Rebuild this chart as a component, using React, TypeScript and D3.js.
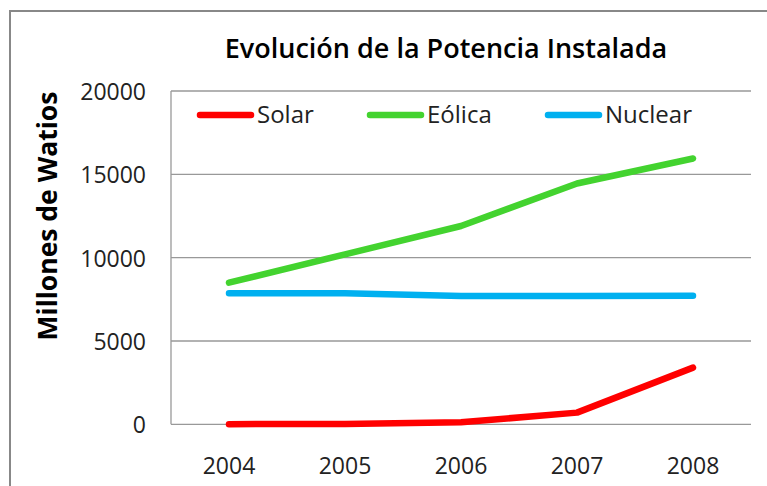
import React from "react";
import * as d3 from "d3";

const years = ["2004", "2005", "2006", "2007", "2008"];
const solar = [10, 20, 120, 700, 3400];
const eolica = [8500, 10200, 11900, 14450, 15950];
const nuclear = [7860, 7860, 7700, 7700, 7720];
const yTicks = [0, 5000, 10000, 15000, 20000];
const seriesNames = ["Solar", "Eólica", "Nuclear"];
const seriesColors = ["#ff0000", "#43d32f", "#00b0f0"];
const title = "Evolución de la Potencia Instalada";
const yTitle = "Millones de Watios";

export default function App() {
  const W = 767, H = 486;
  const left = 171, right = 751, top = 91, bottom = 424.3;
  const x = d3.scaleBand<string>().domain(years).range([left, right]);
  const y = d3.scaleLinear().domain([0, 20000]).range([bottom, top]);
  const cx = (d: string) => (x(d) as number) + x.bandwidth() / 2;
  const line = d3
    .line<number>()
    .x((_, i) => cx(years[i]))
    .y((v) => y(v));
  const series = [solar, eolica, nuclear];
  const legendX = [197, 367, 545];
  const font = "'Open Sans', sans-serif";
  return (
    <svg
      width={W}
      height={H}
      style={{ position: "absolute", left: 0, top: 0, background: "#fff" }}
    >
      <rect x={0} y={0} width={W} height={H} fill="#fff" />
      <rect x={10} y={11} width={W + 20} height={H + 20} fill="#fff" stroke="#888" strokeWidth={2} />
      <text x={446} y={58} textAnchor="middle" fontFamily={font} fontWeight={600} fontSize={27} fill="#000">
        {title}
      </text>
      <text
        transform={`translate(47,216) rotate(-90)`}
        textAnchor="middle"
        dominantBaseline="central"
        fontFamily={font}
        fontWeight={700}
        fontSize={26.5}
        fill="#000"
      >
        {yTitle}
      </text>
      {yTicks.map((t) => (
        <g key={t}>
          <line x1={left} x2={right} y1={y(t)} y2={y(t)} stroke="#999" strokeWidth={1.3} />
          <text x={146} y={y(t)} textAnchor="end" dominantBaseline="central" fontFamily={font} fontSize={23} fill="#222">
            {t}
          </text>
        </g>
      ))}
      <line x1={left} x2={left} y1={top} y2={bottom} stroke="#999" strokeWidth={1.3} />
      {years.map((yr) => (
        <text key={yr} x={cx(yr)} y={474} textAnchor="middle" fontFamily={font} fontSize={23} fill="#222">
          {yr}
        </text>
      ))}
      {series.map((s, i) => (
        <path
          key={seriesNames[i]}
          d={line(s) as string}
          fill="none"
          stroke={seriesColors[i]}
          strokeWidth={6.5}
          strokeLinecap="round"
          strokeLinejoin="round"
        />
      ))}
      {seriesNames.map((n, i) => (
        <g key={n}>
          <line
            x1={legendX[i] + 3}
            x2={legendX[i] + 54}
            y1={115}
            y2={115}
            stroke={seriesColors[i]}
            strokeWidth={6.5}
            strokeLinecap="round"
          />
          <text x={legendX[i] + 60} y={123} fontFamily={font} fontSize={24} fill="#222">
            {n}
          </text>
        </g>
      ))}
    </svg>
  );
}
